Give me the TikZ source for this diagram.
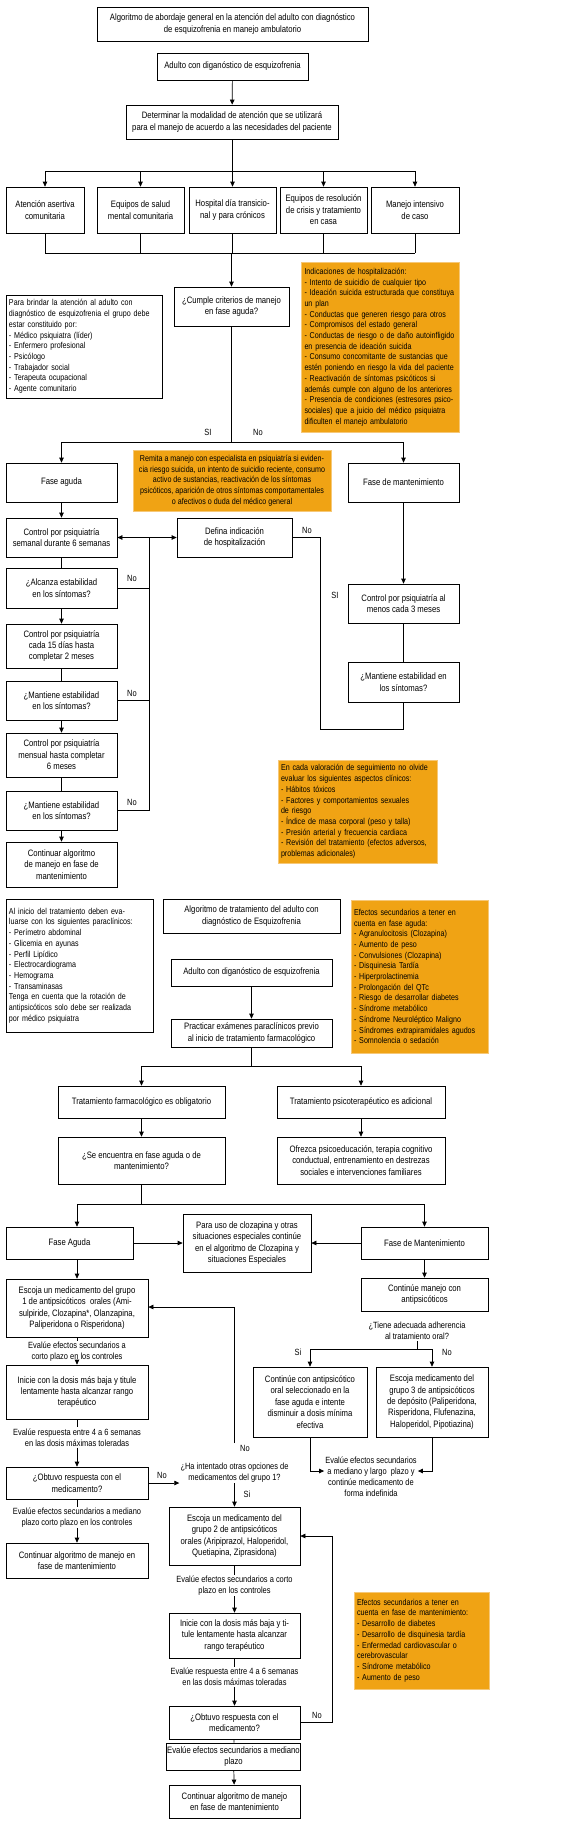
\documentclass[tikz,border=0pt]{standalone}
\usepackage{fontspec}
\setmainfont{Liberation Sans}[FakeStretch=0.83]
\usetikzlibrary{arrows.meta,calc}
\definecolor{orng}{RGB}{240,163,20}
\definecolor{orngb}{RGB}{246,200,120}
\newcommand\bxf{\fontsize{9.3}{11.4}\selectfont}
\newcommand\ntf{\fontsize{8.6}{10.7}\selectfont}
\newcommand\lbf{\fontsize{9}{11}\selectfont}
\begin{document}
\begin{tikzpicture}[x=1pt,y=-1pt,
  box/.style={draw, line width=0.7pt, align=center, font=\bxf, inner sep=1pt},
  note/.style={draw, line width=0.7pt, align=left, font=\ntf, inner sep=3pt},
  onote/.style={fill=orng, draw=orngb, line width=1pt, align=left, font=\ntf, inner sep=3pt},
  ocnote/.style={fill=orng, draw=orngb, line width=1pt, align=center, font=\ntf, inner sep=2pt},
  lbl/.style={font=\lbf, inner sep=1pt, align=center},
  ln/.style={line width=0.7pt},
  arr/.style={line width=0.7pt, -{Triangle[length=5pt,width=4.5pt]}},
  darr/.style={line width=0.7pt, {Triangle[length=5pt,width=4.5pt]}-{Triangle[length=5pt,width=4.5pt]}}
]
\useasboundingbox (0,0) rectangle (568,1826);

% ---------------- Part 1 ----------------
\node[box, minimum width=271pt, minimum height=34pt] (title) at (232.5,24) {Algoritmo de abordaje general en la atención del adulto con diagnóstico\\de esquizofrenia en manejo ambulatorio};
\node[box, minimum width=151pt, minimum height=27pt] (adult1) at (232.5,66.5) {Adulto con diganóstico de esquizofrenia};
\node[box, minimum width=212pt, minimum height=34pt] (determ) at (232,122) {Determinar la modalidad de atención que se utilizará\\para el manejo de acuerdo a las necesidades del paciente};
\draw[arr] (adult1) -- (determ);

\node[box, minimum width=78pt, minimum height=46pt] (m1) at (45,210) {Atención asertiva\\comunitaria};
\node[box, minimum width=87pt, minimum height=46pt] (m2) at (140.5,210) {Equipos de salud\\mental comunitaria};
\node[box, minimum width=87pt, minimum height=46pt] (m3) at (232.5,210) {Hospital día transicio-\\nal y para crónicos};
\node[box, minimum width=87pt, minimum height=46pt] (m4) at (323.5,210) {Equipos de resolución\\de crisis y tratamiento\\en casa};
\node[box, minimum width=88pt, minimum height=46pt] (m5) at (415,210) {Manejo intensivo\\de caso};
\coordinate (j1) at (232,171);
\coordinate (j2) at (232,253);
\draw[ln] (determ.south) -- (determ.south |- j1);
\draw[ln] (m1.north |- j1) -- (m5.north |- j1);
\draw[ln] (m1.south |- j2) -- (m5.south |- j2);
\foreach \n in {m1,m2,m3,m4,m5}{
  \draw[arr] (\n.north |- j1) -- (\n.north);
  \draw[ln] (\n.south) -- (\n.south |- j2);
}

\node[box, minimum width=115pt, minimum height=39pt] (cumple) at (231.5,306.5) {¿Cumple criterios de manejo\\en fase aguda?};
\draw[arr] (cumple.north |- j2) -- (cumple.north);

\node[onote, minimum width=157pt, minimum height=170pt, text width=152pt] (indic) at (380.5,347) {Indicaciones de hospitalización:\\- Intento de suicidio de cualquier tipo\\- Ideación suicida estructurada que constituya\\un plan\\- Conductas que generen riesgo para otros\\- Compromisos del estado general\\- Conductas de riesgo o de daño autoinfligido\\en presencia de ideación suicida\\- Consumo concomitante de sustancias que\\estén poniendo en riesgo la vida del paciente\\- Reactivación de síntomas psicóticos si\\además cumple con alguno de los anteriores\\- Presencia de condiciones (estresores psico-\\sociales) que a juicio del médico psiquiatra\\dificulten el manejo ambulatorio};

\node[note, minimum width=156pt, minimum height=103pt, text width=150pt] (brindar) at (84,346.5) {Para brindar la atención al adulto con\\diagnóstico de esquizofrenia el grupo debe\\estar constituido por:\\- Médico psiquiatra (líder)\\- Enfermero profesional\\- Psicólogo\\- Trabajador social\\- Terapeuta ocupacional\\- Agente comunitario};

\node[box, minimum width=111pt, minimum height=39pt] (faseA) at (61.5,482.5) {Fase aguda};
\node[box, minimum width=111pt, minimum height=39pt] (faseM) at (403.5,482.5) {Fase de mantenimiento};
\coordinate (j3) at (232,442);
\draw[ln] (cumple.south) -- (cumple.south |- j3);
\draw[ln] (faseA.north |- j3) -- (faseM.north |- j3);
\draw[arr] (faseA.north |- j3) -- (faseA.north);
\draw[arr] (faseM.north |- j3) -- (faseM.north);
\node[lbl] (si1) at (208,432) {SI};
\node[lbl] (no1) at (258,432) {No};

\node[ocnote, minimum width=198pt, minimum height=61pt] (remita) at (232,480.5) {Remita a manejo con especialista en psiquiatría si eviden-\\cia riesgo suicida, un intento de suicidio reciente, consumo\\activo de sustancias, reactivación de los síntomas\\psicóticos, aparición de otros síntomas comportamentales\\o afectivos o duda del médico general};

\node[box, minimum width=111pt, minimum height=39pt] (ctrl1) at (61.5,537.5) {Control por psiquiatría\\semanal durante 6 semanas};
\node[box, minimum width=115pt, minimum height=39pt] (defina) at (234.5,537.5) {Defina indicación\\de hospitalización};
\node[box, minimum width=111pt, minimum height=40pt] (alc) at (61.5,588) {¿Alcanza estabilidad\\en los síntomas?};
\node[box, minimum width=111pt, minimum height=44pt] (ctrl2) at (61.5,646) {Control por psiquiatría\\cada 15 días hasta\\completar 2 meses};
\node[box, minimum width=111pt, minimum height=39pt] (mant1) at (61.5,700.5) {¿Mantiene estabilidad\\en los síntomas?};
\node[box, minimum width=111pt, minimum height=44pt] (ctrl3) at (61.5,755) {Control por psiquiatría\\mensual hasta completar\\6 meses};
\node[box, minimum width=111pt, minimum height=39pt] (mant2) at (61.5,810.5) {¿Mantiene estabilidad\\en los síntomas?};
\node[box, minimum width=111pt, minimum height=45pt] (cont1) at (61.5,864.5) {Continuar algoritmo\\de manejo en fase de\\mantenimiento};
\draw[arr] (faseA) -- (ctrl1);
\draw[ln] (ctrl1) -- (alc);
\draw[arr] (alc) -- (ctrl2);
\draw[ln] (ctrl2) -- (mant1);
\draw[arr] (mant1) -- (ctrl3);
\draw[ln] (ctrl3) -- (mant2);
\draw[arr] (mant2) -- (cont1);
\draw[darr] (ctrl1.east) -- (defina.west);
\coordinate (v1) at (149,537.5);
\coordinate (v2) at (149,810.5);
\draw[ln] (v1) -- (v2);
\draw[ln] (alc.east) -- (alc.east -| v1);
\draw[ln] (mant1.east) -- (mant1.east -| v1);
\draw[ln] (mant2.east) -- (v2);
\node[lbl] (no2) at (132,578) {No};
\node[lbl] (no3) at (132,693) {No};
\node[lbl] (no4) at (132,802) {No};

\node[box, minimum width=111pt, minimum height=39pt] (ctrlM) at (403.5,603.5) {Control por psiquiatría al\\menos cada 3 meses};
\node[box, minimum width=111pt, minimum height=40pt] (mantM) at (403.5,682) {¿Mantiene estabilidad en\\los síntomas?};
\draw[arr] (faseM) -- (ctrlM);
\draw[ln] (ctrlM) -- (mantM);
\coordinate (r1) at (320,537.5);
\coordinate (r2) at (320,729);
\draw[ln] (defina.east) -- (r1) -- (r2) -- (mantM.south |- r2) -- (mantM.south);
\node[lbl] (no5) at (307,530) {No};
\node[lbl] (si2) at (335,595) {SI};

\node[onote, minimum width=159pt, minimum height=103pt, text width=153pt] (encada) at (357.5,811.5) {En cada valoración de seguimiento no olvide\\evaluar los siguientes aspectos clínicos:\\- Hábitos tóxicos\\- Factores y comportamientos sexuales\\de riesgo\\- Índice de masa corporal (peso y talla)\\- Presión arterial y frecuencia cardiaca\\- Revisión del tratamiento (efectos adversos,\\problemas adicionales)};

% ---------------- Part 2 ----------------
\node[note, minimum width=147pt, minimum height=133pt, text width=141pt] (alinicio) at (79.5,965.5) {Al inicio del tratamiento deben eva-\\luarse con los siguientes paraclínicos:\\- Perímetro abdominal\\- Glicemia en ayunas\\- Perfil Lipídico\\- Electrocardiograma\\- Hemograma\\- Transaminasas\\Tenga en cuenta que la rotación de\\antipsicóticos solo debe ser realizada\\por médico psiquiatra};
\node[box, minimum width=177pt, minimum height=34pt] (algo2) at (251.5,916) {Algoritmo de tratamiento del adulto con\\diagnóstico de Esquizofrenia};
\node[box, minimum width=161pt, minimum height=27pt] (adult2) at (251.5,972.5) {Adulto con diganóstico de esquizofrenia};
\node[box, minimum width=161pt, minimum height=28pt] (pract) at (251.5,1033) {Practicar exámenes paraclínicos previo\\al inicio de tratamiento farmacológico};
\draw[arr] (adult2) -- (pract);
\node[onote, minimum width=137pt, minimum height=153pt, text width=131pt] (efag) at (419.5,976.5) {Efectos secundarios a tener en\\cuenta en fase aguda:\\- Agranulocitosis (Clozapina)\\- Aumento de peso\\- Convulsiones (Clozapina)\\- Disquinesia Tardía\\- Hiperprolactinemia\\- Prolongación del QTc\\- Riesgo de desarrollar diabetes\\- Síndrome metabólico\\- Síndrome Neuroléptico Maligno\\- Síndromes extrapiramidales agudos\\- Somnolencia o sedación};

\node[box, minimum width=167pt, minimum height=32pt] (tfarm) at (141.5,1102) {Tratamiento farmacológico es obligatorio};
\node[box, minimum width=168pt, minimum height=32pt] (tpsi) at (361,1102) {Tratamiento psicoterapéutico es adicional};
\coordinate (j4) at (251.5,1066);
\draw[ln] (pract) -- (j4);
\draw[ln] (tfarm.north |- j4) -- (tpsi.north |- j4);
\draw[arr] (tfarm.north |- j4) -- (tfarm.north);
\draw[arr] (tpsi.north |- j4) -- (tpsi.north);
\node[box, minimum width=167pt, minimum height=47pt] (seenc) at (141.5,1160.5) {¿Se encuentra en fase aguda o de\\mantenimiento?};
\node[box, minimum width=168pt, minimum height=47pt] (ofrez) at (361,1160.5) {Ofrezca psicoeducación, terapia cognitivo\\conductual, entrenamiento en destrezas\\sociales e intervenciones familiares};
\draw[arr] (tfarm) -- (seenc);
\draw[arr] (tpsi) -- (ofrez);

\node[box, minimum width=127pt, minimum height=32pt] (faseA2) at (69.5,1243) {Fase Aguda};
\node[box, minimum width=128pt, minimum height=58pt] (parauso) at (247,1243) {Para uso de clozapina y otras\\situaciones especiales continúe\\en el algoritmo de Clozapina y\\situaciones Especiales};
\node[box, minimum width=127pt, minimum height=32pt] (faseM2) at (424.5,1243) {Fase de Mantenimiento};
\coordinate (j5) at (141.5,1204);
\coordinate (jl) at (77,1204);
\coordinate (jr) at (424.5,1204);
\draw[ln] (seenc) -- (j5);
\draw[ln] (jl) -- (jr);
\draw[arr] (jl) -- (jl |- faseA2.north);
\draw[arr] (jr) -- (faseM2.north);
\draw[arr] (faseA2) -- (parauso);
\draw[arr] (faseM2) -- (parauso);

\node[box, minimum width=142pt, minimum height=58pt] (esc1) at (77,1308) {Escoja un medicamento del grupo\\1 de antipsicóticos\ \ orales (Ami-\\sulpiride, Clozapina*, Olanzapina,\\Paliperidona o Risperidona)};
\draw[arr] (faseA2.south -| esc1.north) -- (esc1.north);
\node[box, minimum width=127pt, minimum height=33pt] (contM) at (424.5,1294.5) {Continúe manejo con\\antipsicóticos};
\draw[arr] (faseM2) -- (contM);
\node[lbl] (adh) at (417,1331) {¿Tiene adecuada adherencia\\al tratamiento oral?};
\coordinate (j6) at (417,1349);
\node[box, minimum width=114pt, minimum height=70pt] (contoral) at (310,1402) {Continúe con antipsicótico\\oral seleccionado en la\\fase aguda e intente\\disminuir a dosis mínima\\efectiva};
\node[box, minimum width=112pt, minimum height=70pt] (esc3) at (432,1402) {Escoja medicamento del\\grupo 3 de antipsicóticos\\de depósito (Paliperidona,\\Risperidona, Flufenazina,\\Haloperidol, Pipotiazina)};
\draw[ln] (adh.south) -- (j6);
\draw[ln] (contoral.north |- j6) -- (esc3.north |- j6);
\draw[arr] (contoral.north |- j6) -- (contoral.north);
\draw[arr] (esc3.north |- j6) -- (esc3.north);
\node[lbl] (si3) at (298,1352) {Si};
\node[lbl] (no6) at (447,1352) {No};
\node[lbl] (evml) at (371,1477) {Evalúe efectos secundarios\\a mediano y largo\ \ plazo y\\continúe medicamento de\\forma indefinida};
\draw[arr] (contoral.south) |- ($(evml.west)+(0,-6)$);
\draw[arr] (esc3.south) |- ($(evml.east)+(0,-6)$);

\node[lbl] (ev1) at (77,1351.5) {Evalúe efectos secundarios a\\corto plazo en los controles};
\node[box, minimum width=142pt, minimum height=54pt] (inic1) at (77,1392) {Inicie con la dosis más baja y titule\\lentamente hasta alcanzar rango\\terapéutico};
\node[lbl] (ev2) at (77,1437.5) {Evalúe respuesta entre 4 a 6 semanas\\en las dosis máximas toleradas};
\node[box, minimum width=142pt, minimum height=32pt] (obt1) at (77,1483) {¿Obtuvo respuesta con el\\medicamento?};
\draw[ln] (esc1) -- (ev1);
\draw[arr] (ev1) -- (inic1);
\draw[ln] (inic1) -- (ev2);
\draw[arr] (ev2) -- (obt1);

\node[lbl] (ha) at (234.5,1472.5) {¿Ha intentado otras opciones de\\medicamentos del grupo 1?};
\draw[arr] (obt1.east) -- (obt1.east -| ha.west);
\node[lbl] (no7) at (162,1475) {No};
\coordinate (hn) at (234.5,1443);
\coordinate (h1) at (234.5,1307);
\draw[arr] (hn) -- (h1) -- (esc1.east |- h1);
\node[lbl] (no8) at (245,1448) {No};
\node[lbl] (si4) at (247,1494) {Si};

\node[box, minimum width=131pt, minimum height=58pt] (grp2) at (234.5,1536) {Escoja un medicamento del\\grupo 2 de antipsicóticos\\orales (Aripiprazol, Haloperidol,\\Quetiapina, Ziprasidona)};
\draw[arr] (ha.south) -- (grp2.north);
\node[lbl] (ev3) at (234.5,1585.5) {Evalúe efectos secundarios a corto\\plazo en los controles};
\node[box, minimum width=131pt, minimum height=45pt] (inic2) at (234.5,1635.5) {Inicie con la dosis más baja y ti-\\tule lentamente hasta alcanzar\\rango terapéutico};
\node[lbl] (ev4) at (234.5,1677) {Evalúe respuesta entre 4 a 6 semanas\\en las dosis máximas toleradas};
\node[box, minimum width=131pt, minimum height=33pt] (obt2) at (234.5,1722.5) {¿Obtuvo respuesta con el\\medicamento?};
\node[box, minimum width=131pt, minimum height=27pt] (evmed) at (233.5,1756.5) {Evalúe efectos secundarios a mediano\\plazo};
\node[box, minimum width=131pt, minimum height=33pt] (contfin) at (234.5,1801.5) {Continuar algoritmo de manejo\\en fase de mantenimiento};
\draw[ln] (grp2) -- (ev3);
\draw[arr] (ev3) -- (inic2);
\draw[ln] (inic2) -- (ev4);
\draw[arr] (ev4) -- (obt2);
\draw[ln] (obt2) -- (evmed);
\draw[arr] (evmed) -- (contfin);
\coordinate (q1) at (332,1722.5);
\coordinate (q2) at (332,1536);
\draw[arr] (obt2.east) -- (q1) -- (q2) -- (grp2.east);
\node[lbl] (no9) at (317,1715) {No};

\node[lbl] (ev5) at (77,1517.5) {Evalúe efectos secundarios a mediano\\plazo corto plazo en los controles};
\node[box, minimum width=142pt, minimum height=35pt] (cont2) at (77,1560.5) {Continuar algoritmo de manejo en\\fase de mantenimiento};
\draw[ln] (obt1) -- (ev5);
\draw[arr] (ev5) -- (cont2);

\node[onote, minimum width=135pt, minimum height=97pt, text width=129pt] (efmant) at (421.5,1640.5) {Efectos secundarios a tener en\\cuenta en fase de mantenimiento:\\- Desarrollo de diabetes\\- Desarrollo de disquinesia tardía\\- Enfermedad cardiovascular o\\cerebrovascular\\- Síndrome metabólico\\- Aumento de peso};
\end{tikzpicture}
\end{document}
